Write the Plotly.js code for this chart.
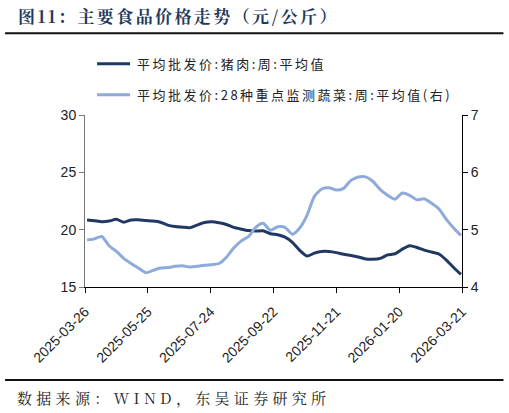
<!DOCTYPE html>
<html>
<head>
<meta charset="utf-8">
<script src="https://cdn.plot.ly/plotly-3.0.1.min.js"></script>
<style>
html,body{margin:0;padding:0;background:#fff;}
#chart{width:509px;height:413px;}
.legendtext{letter-spacing:2.5px;}
.annotation-text{letter-spacing:2.4px;}
g.annotation[data-index="1"] .annotation-text{letter-spacing:4.3px;}
</style>
</head>
<body>
<div id="chart"></div>
<script>
const startDate = '2025-03-28';
const weeks = 52;
const porkName = '平均批发价:猪肉:周:平均值';
const vegName = '平均批发价:28种重点监测蔬菜:周:平均值(右)';
const pork = [20.84,20.78,20.70,20.75,20.90,20.65,20.85,20.87,20.80,20.75,
  20.65,20.40,20.28,20.22,20.17,20.40,20.62,20.68,20.60,20.45,
  20.20,20.05,19.92,19.88,19.90,19.65,19.55,19.35,18.90,18.20,
  17.70,17.95,18.10,18.10,18.00,17.85,17.75,17.62,17.45,17.42,
  17.50,17.80,17.90,18.30,18.60,18.45,18.22,18.05,17.88,17.35,
  16.70,16.10];
const veg = [4.82,4.84,4.88,4.72,4.62,4.50,4.41,4.33,4.25,4.29,
  4.33,4.34,4.36,4.37,4.35,4.36,4.38,4.39,4.41,4.52,
  4.68,4.80,4.88,5.04,5.11,4.99,5.05,5.04,4.92,5.03,
  5.25,5.58,5.71,5.73,5.69,5.72,5.86,5.92,5.92,5.84,
  5.70,5.60,5.53,5.64,5.60,5.52,5.54,5.46,5.36,5.18,
  5.03,4.90];
const tickDates = ['2025-03-26','2025-05-25','2025-07-24','2025-09-22','2025-11-21','2026-01-20','2026-03-21'];
const leftTicks = [15,20,25,30];
const rightTicks = [4,5,6,7];

const dates = [];
const d0 = new Date(startDate + 'T00:00:00Z');
for (let i = 0; i < weeks; i++) {
  const d = new Date(d0.getTime() + i * 7 * 86400000);
  dates.push(d.toISOString().slice(0,10));
}

const tickFont = {family: 'Liberation Sans, Arial, sans-serif', size: 14, color: '#222'};
const traces = [
  {x: dates, y: pork, name: porkName, type: 'scatter', mode: 'lines',
   line: {color: '#1f3864', width: 3, shape: 'spline', smoothing: 0.6}, legendgroup: 'a'},
  {x: dates, y: veg, name: vegName, type: 'scatter', mode: 'lines', yaxis: 'y2',
   line: {color: '#8eaadb', width: 3, shape: 'spline', smoothing: 0.6}, legendgroup: 'b'}
];

const layout = {
  width: 509, height: 413,
  margin: {l: 85, r: 47, t: 115, b: 126},
  paper_bgcolor: '#fff', plot_bgcolor: '#fff',
  showlegend: true,
  legend: {x: 0.032, y: 1.385, xanchor: 'left', yanchor: 'top', orientation: 'v',
    traceorder: 'grouped', tracegroupgap: 11,
    font: {family: 'Noto Sans CJK SC, sans-serif', size: 13, color: '#222'},
    bgcolor: 'rgba(0,0,0,0)'},
  xaxis: {type: 'date', range: ['2025-03-26','2026-03-21'], tickvals: tickDates,
    ticktext: tickDates, tickangle: -45, tickfont: tickFont, ticklabelstandoff: 5,
    showgrid: false, zeroline: false, showline: true, linecolor: '#000', linewidth: 1,
    ticks: 'outside', ticklen: 5, tickcolor: '#000'},
  yaxis: {range: [15,30], tickvals: leftTicks, tickfont: tickFont, showgrid: false, zeroline: false,
    showline: true, linecolor: '#777', linewidth: 1, ticks: 'outside', ticklen: 5, tickcolor: '#777'},
  yaxis2: {range: [4,7], tickvals: rightTicks, overlaying: 'y', side: 'right', tickfont: tickFont,
    showgrid: false, zeroline: false, showline: true, linecolor: '#000', linewidth: 1,
    ticks: 'outside', ticklen: 5, tickcolor: '#000'},
  annotations: [
    {text: '<b>图11：主要食品价格走势（元/公斤）</b>', xref: 'paper', yref: 'paper',
     x: -0.184, y: 1.58, xanchor: 'left', yanchor: 'middle', align: 'left', showarrow: false,
     font: {family: 'Noto Serif CJK SC, Noto Sans CJK SC, serif', size: 17, color: '#1f3a5f'}},
    {text: '数据来源：WIND，东吴证券研究所', xref: 'paper', yref: 'paper',
     x: -0.186, y: -0.64, xanchor: 'left', yanchor: 'middle', align: 'left', showarrow: false,
     font: {family: 'Noto Serif CJK SC, Noto Sans CJK SC, serif', size: 15, color: '#222'}}
  ],
  shapes: [
    {type: 'line', xref: 'paper', yref: 'paper', x0: -0.212, x1: 1.11, y0: 1.475, y1: 1.475,
     line: {color: '#111', width: 2}},
    {type: 'line', xref: 'paper', yref: 'paper', x0: -0.212, x1: 1.11, y0: -0.54, y1: -0.54,
     line: {color: '#111', width: 2}}
  ]
};

Plotly.newPlot('chart', traces, layout, {displayModeBar: false, staticPlot: true}).then(function(gd) {
  gd.querySelectorAll('.legendlines path').forEach(function(p) { p.setAttribute('d', 'M-4,0h37'); });
});
</script>
</body>
</html>
